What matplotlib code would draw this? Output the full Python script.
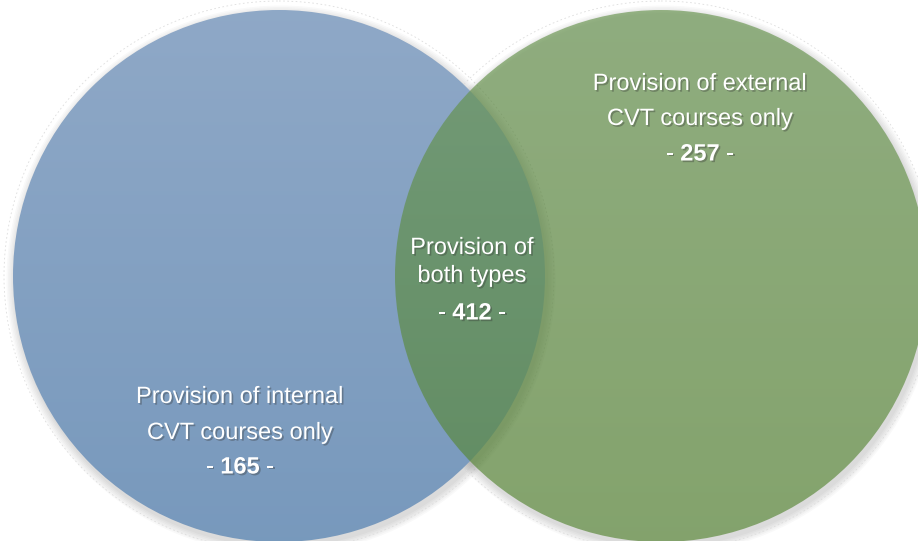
import numpy as np
import matplotlib
matplotlib.use("Agg")
import matplotlib.pyplot as plt
from matplotlib.patches import Circle
import matplotlib.patheffects as pe

# Venn data
set_labels = ["Provision of internal\nCVT courses only",
              "Provision of external\nCVT courses only",
              "Provision of\nboth types"]
set_counts = [165, 257, 412]

# circle layout (pixels) and fills
centers = [(279, 276), (661, 276)]
radius = 266
top_colors = [(0.56, 0.66, 0.78), (0.40, 0.58, 0.30)]
bottom_colors = [(0.47, 0.60, 0.74), (0.33, 0.52, 0.19)]
alphas = [1.0, 0.65]

# label positions: (x, first line y, line spacing, number y)
label_pos = [(240, 397, 36, 467), (700, 84, 35, 154), (472, 248, 28, 313)]

plt.rcParams['font.family'] = ['Liberation Sans', 'DejaVu Sans']

fig = plt.figure(figsize=(9.18, 5.41), dpi=100)
ax = fig.add_axes([0, 0, 1, 1])
ax.axis('off')

# soft shadows and faint outlines
for (cx, cy) in centers:
    for k in range(6):
        ax.add_patch(Circle((cx + 2, cy + 4), radius + 1 + k * 1.5,
                            facecolor='black', edgecolor='none',
                            alpha=0.025, zorder=1))
    ax.add_patch(Circle((cx, cy), radius + 9, facecolor='none',
                        edgecolor='#dddddd', lw=0.6, ls=(0, (2, 3)), zorder=1))

# gradient filled circles
for (cx, cy), c0, c1, a in zip(centers, top_colors, bottom_colors, alphas):
    t = np.linspace(0, 1, 256)[:, None]
    grad = np.array(c0)[None, :] * (1 - t) + np.array(c1)[None, :] * t
    img = np.repeat(grad[:, None, :], 2, axis=1)
    im = ax.imshow(img, extent=(cx - radius, cx + radius, cy + radius, cy - radius),
                   aspect='auto', alpha=a, zorder=2, interpolation='bilinear')
    im.set_clip_path(Circle((cx, cy), radius, transform=ax.transData))

ax.set_xlim(0, 918)
ax.set_ylim(541, 0)


def shadowed(**kw):
    return dict(color='white', fontsize=17, zorder=5,
                path_effects=[pe.withSimplePatchShadow(offset=(1.2, -1.2),
                                                      shadow_rgbFace='#333333',
                                                      alpha=0.35)], **kw)


fig.canvas.draw()
renderer = fig.canvas.get_renderer()
for label, count, (x, y0, dy, yn) in zip(set_labels, set_counts, label_pos):
    for i, line in enumerate(label.split("\n")):
        ax.text(x, y0 + i * dy, line, ha='center', va='center', **shadowed())
    num = ax.text(x, yn, str(count), ha='center', va='center',
                  **shadowed(fontweight='bold'))
    bb = num.get_window_extent(renderer).transformed(ax.transData.inverted())
    ax.text(min(bb.x0, bb.x1), yn, "- ", ha='right', va='center', **shadowed())
    ax.text(max(bb.x0, bb.x1), yn, " -", ha='left', va='center', **shadowed())

fig.savefig('out.png', dpi=100, facecolor='white')
